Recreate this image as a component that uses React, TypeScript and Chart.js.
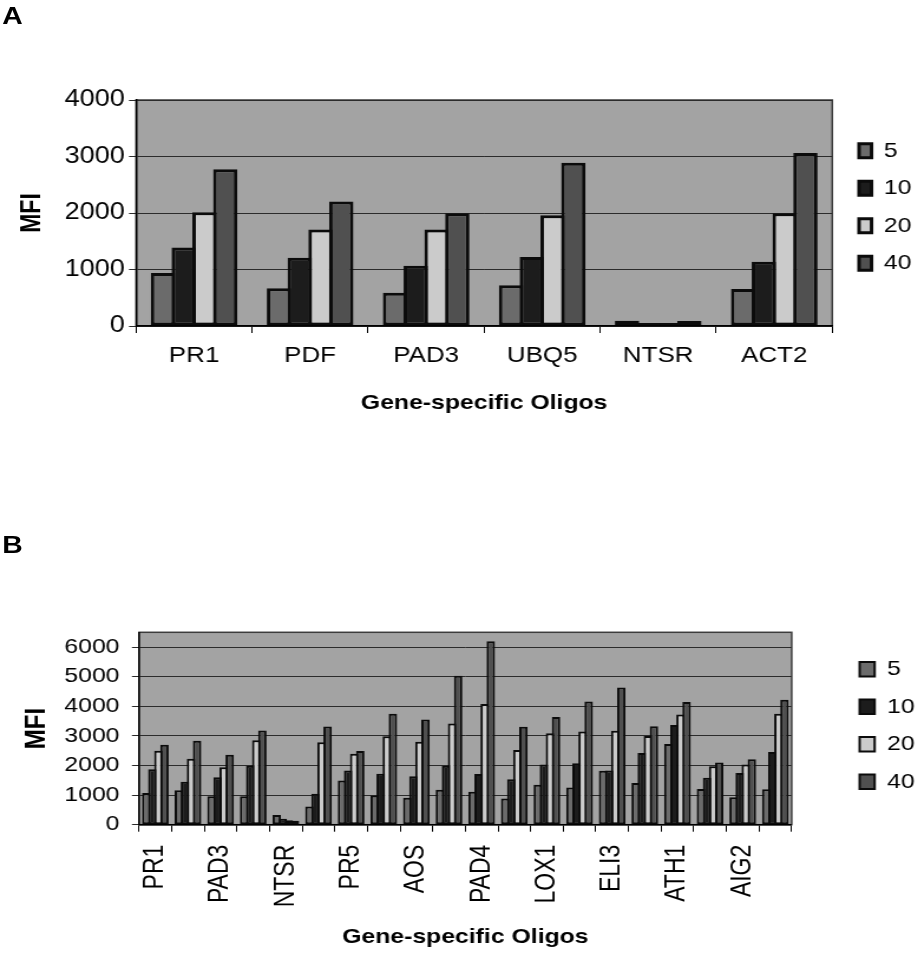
import React, { useEffect, useRef } from 'react';
import { Chart, registerables } from 'chart.js';

Chart.register(...registerables);

// ---- data ---------------------------------------------------------------

const seriesLabels = ['5', '10', '20', '40'];

const genesA = ['PR1', 'PDF', 'PAD3', 'UBQ5', 'NTSR', 'ACT2'];
const mfiA5 = [940, 670, 590, 720, 95, 655];
const mfiA10 = [1390, 1210, 1065, 1220, 55, 1135];
const mfiA20 = [2015, 1710, 1710, 1960, 55, 1995];
const mfiA40 = [2775, 2205, 1995, 2890, 90, 3060];
const yTicksA = [0, 1000, 2000, 3000, 4000];

// every second oligo carries a printed name on the axis
const genesB = [
  'PR1', '', 'PAD3', '', 'NTSR', '', 'PR5', '', 'AOS', '',
  'PAD4', '', 'LOX1', '', 'ELI3', '', 'ATH1', '', 'AIG2', '',
];
const mfiB5 = [1070, 1160, 965, 965, 330, 615, 1490, 990, 910, 1180, 1115, 885, 1350, 1260, 1820, 1410, 2730, 1205, 930, 1200];
const mfiB10 = [1875, 1455, 1600, 1990, 200, 1045, 1830, 1720, 1635, 1990, 1715, 1535, 2035, 2080, 1830, 2420, 3365, 1590, 1750, 2460];
const mfiB20 = [2500, 2225, 1945, 2850, 150, 2785, 2400, 2990, 2805, 3420, 4080, 2525, 3090, 3150, 3170, 3000, 3725, 1975, 2035, 3750];
const mfiB40 = [2705, 2840, 2365, 3180, 130, 3320, 2490, 3750, 3555, 5035, 6195, 3305, 3635, 4160, 4635, 3330, 4145, 2100, 2215, 4220];
const yTicksB = [0, 1000, 2000, 3000, 4000, 5000, 6000];

const yMaxA = 4000;
const yMaxB = 6500;

// ---- styling ------------------------------------------------------------

const FONT = "'Liberation Sans', Arial, Helvetica, sans-serif";
const STRETCH = 1.18; // the figure is drawn slightly widened
const LOGICAL_W = 776;
const seriesFills = ['#6b6b6b', '#1c1c1c', '#cbcbcb', '#505050'];
const barEdge = '#0b0b0b';

Chart.defaults.font.family = FONT;
Chart.defaults.color = '#000';

// Grey plot panel with a frame, and placement of the legend column.
const plotFrame = {
  id: 'plotFrame',
  afterLayout(chart: any, _args: any, opts: any) {
    const lg = chart.legend;
    if (!lg) return;
    const a = chart.chartArea;
    const pad = lg.options.labels.padding;
    lg.left = opts.legendX - pad;
    lg.right = lg.left + 140;
    lg.width = 140;
    lg.top = a.top + opts.legendDy;
    lg.bottom = a.bottom + opts.legendDy;
    lg.height = lg.bottom - lg.top;
  },
  beforeDraw(chart: any, _args: any, opts: any) {
    const { ctx, chartArea: a } = chart;
    ctx.save();
    ctx.fillStyle = opts.fill;
    ctx.fillRect(a.left, a.top, a.right - a.left, a.bottom - a.top);
    ctx.strokeStyle = opts.stroke;
    ctx.lineWidth = 1.5;
    ctx.strokeRect(a.left, a.top, a.right - a.left, a.bottom - a.top);
    ctx.restore();
  },
};

type PanelSpec = {
  labels: string[];
  series: number[][];
  yMax: number;
  yTicks: number[];
  area: { left: number; right: number; top: number; bottom: number };
  height: number;
  barBorder: number;
  catPct: number;
  barPct: number;
  yTickSize: number;
  yTickPad: number;
  yTitleSize: number;
  yTitlePad: number;
  xTickSize: number;
  xTickPad: number;
  xRotation: number;
  xTitlePad: number;
  legendX: number;
  legendDy: number;
  legendBox: [number, number];
};

function buildConfig(p: PanelSpec): any {
  return {
    type: 'bar',
    data: {
      labels: p.labels,
      datasets: p.series.map((values, i) => ({
        label: seriesLabels[i],
        data: values,
        backgroundColor: seriesFills[i],
        borderColor: barEdge,
        borderWidth: p.barBorder,
        borderSkipped: false,
        categoryPercentage: p.catPct,
        barPercentage: p.barPct,
      })),
    },
    options: {
      responsive: false,
      animation: false,
      devicePixelRatio: 1,
      events: [],
      layout: {
        padding: { top: p.area.top, left: 0, right: LOGICAL_W - p.area.right, bottom: 0 },
      },
      scales: {
        x: {
          type: 'category',
          offset: true,
          grid: {
            offset: true,
            drawOnChartArea: false,
            drawTicks: true,
            tickLength: 7,
            color: '#000',
            lineWidth: 1,
          },
          border: { display: true, color: '#000', width: 1.5 },
          ticks: {
            autoSkip: false,
            minRotation: p.xRotation,
            maxRotation: p.xRotation,
            padding: p.xTickPad,
            font: { family: FONT, size: p.xTickSize },
            color: '#000',
          },
          title: {
            display: true,
            text: 'Gene-specific Oligos',
            font: { family: FONT, size: 21, weight: 'bold' },
            color: '#000',
            padding: { top: 0, bottom: p.xTitlePad },
          },
          afterFit: (s: any) => {
            s.height = p.height - p.area.bottom;
          },
        },
        y: {
          min: 0,
          max: p.yMax,
          bounds: 'data',
          afterBuildTicks: (s: any) => {
            s.ticks = p.yTicks.map((value) => ({ value }));
          },
          ticks: {
            padding: p.yTickPad,
            font: { family: FONT, size: p.yTickSize },
            color: '#000',
            callback: (v: any) => String(v),
          },
          grid: { color: '#2b2b2b', lineWidth: 1, tickLength: 6, drawTicks: true },
          border: { display: true, color: '#000', width: 1.5 },
          title: {
            display: true,
            text: 'MFI',
            font: { family: FONT, size: p.yTitleSize, weight: 'bold' },
            color: '#000',
            padding: { top: p.yTitlePad, bottom: 0 },
          },
          afterFit: (s: any) => {
            s.width = p.area.left;
          },
        },
      },
      plugins: {
        legend: {
          position: 'chartArea',
          align: 'center',
          labels: {
            boxWidth: p.legendBox[0],
            boxHeight: p.legendBox[1],
            padding: 16.5,
            font: { family: FONT, size: 21 },
            color: '#000',
          },
        },
        tooltip: { enabled: false },
        plotFrame: { fill: '#a3a3a3', stroke: '#3c3c3c', legendX: p.legendX, legendDy: p.legendDy },
      },
    },
    plugins: [plotFrame],
  };
}

const panelA: PanelSpec = {
  labels: genesA,
  series: [mfiA5, mfiA10, mfiA20, mfiA40],
  yMax: yMaxA,
  yTicks: yTicksA,
  area: { left: 115.3, right: 705.3, top: 100, bottom: 326 },
  height: 430,
  barBorder: 3,
  catPct: 0.716,
  barPct: 1.17,
  yTickSize: 23,
  yTickPad: 3.5,
  yTitleSize: 23,
  yTitlePad: 14.2,
  xTickSize: 22,
  xTickPad: 10,
  xRotation: 0,
  xTitlePad: 14.4,
  legendX: 728,
  legendDy: -6,
  legendBox: [10.6, 14],
};

const panelB: PanelSpec = {
  labels: genesB,
  series: [mfiB5, mfiB10, mfiB20, mfiB40],
  yMax: yMaxB,
  yTicks: yTicksB,
  area: { left: 117.8, right: 670.9, top: 162.3, bottom: 354.7 },
  height: 484,
  barBorder: 2,
  catPct: 0.745,
  barPct: 1.39,
  yTickSize: 21,
  yTickPad: 10.5,
  yTitleSize: 24,
  yTitlePad: 17.4,
  xTickSize: 23,
  xTickPad: 13,
  xRotation: 90,
  xTitlePad: 4.4,
  legendX: 728.5,
  legendDy: -3,
  legendBox: [12.75, 14.7],
};

function ChartPanel({ spec, top }: { spec: PanelSpec; top: number }) {
  const ref = useRef<HTMLCanvasElement>(null);
  useEffect(() => {
    if (!ref.current) return;
    const chart = new Chart(ref.current, buildConfig(spec));
    return () => chart.destroy();
  }, [spec]);
  return (
    <canvas
      ref={ref}
      width={LOGICAL_W}
      height={spec.height}
      style={{ position: 'absolute', left: 0, top, width: LOGICAL_W, height: spec.height, display: 'block' }}
    />
  );
}

const panelLetter = (top: number): React.CSSProperties => ({
  position: 'absolute',
  left: 2,
  top,
  margin: 0,
  fontFamily: FONT,
  fontWeight: 'bold',
  fontSize: 24,
  lineHeight: '24px',
  color: '#000',
});

export default function App() {
  return (
    <div
      style={{
        position: 'absolute',
        left: 0,
        top: 0,
        width: 915,
        height: 954,
        overflow: 'hidden',
        background: '#fff',
      }}
    >
      <div
        style={{
          position: 'absolute',
          left: 0,
          top: 0,
          width: LOGICAL_W,
          height: 954,
          transform: `scaleX(${STRETCH})`,
          transformOrigin: '0 0',
        }}
      >
        <div style={panelLetter(4)}>A</div>
        <ChartPanel spec={panelA} top={0} />
        <div style={panelLetter(533)}>B</div>
        <ChartPanel spec={panelB} top={470} />
      </div>
    </div>
  );
}
